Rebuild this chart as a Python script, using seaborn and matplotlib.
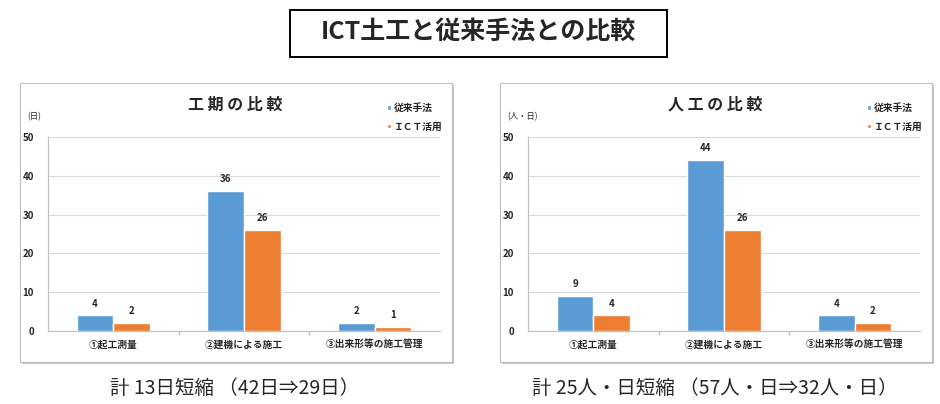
import pandas as pd
import numpy as np
import matplotlib.pyplot as plt
import seaborn as sns
from matplotlib.patches import Rectangle
from matplotlib.ticker import FixedLocator

categories = ['①起工測量', '②建機による施工', '③出来形等の施工管理']
series = ['従来手法', 'ＩＣＴ活用']
period_conventional = [4, 36, 2]
period_ict = [2, 26, 1]
labor_conventional = [9, 44, 4]
labor_ict = [4, 26, 2]

main_title = 'ICT土工と従来手法との比較'
chart_titles = ['工 期 の 比 較', '人 工 の 比 較']
unit_labels = ['(日)', '(人・日)']
captions = ['計 13日短縮 （42日⇒29日）', '計 25人・日短縮 （57人・日⇒32人・日）']

sns.set_theme(style='white')
plt.rcParams['font.family'] = ['Noto Sans CJK JP', 'DejaVu Sans']

W, H = 940, 404
fig = plt.figure(figsize=(W / 100, H / 100), dpi=100)
colors = ['#5B9BD5', '#ED7D31']


def fx(x):
    return x / W


def fy(y):
    return 1 - y / H


# main title box
fig.patches.append(Rectangle((fx(290), fy(57)), fx(377), 47 / H, transform=fig.transFigure,
                             facecolor='white', edgecolor='black', lw=1.4))
fig.text(fx(478), fy(33), main_title, ha='center', va='center', fontsize=18, fontweight='bold')


def draw_panel(x0, conv, ict, title, unit, caption):
    # outer frame with shadow
    fig.patches.append(Rectangle((fx(x0 + 2), fy(364)), fx(432), 279 / H, transform=fig.transFigure,
                                 facecolor='#c8c8c8', edgecolor='none', zorder=0))
    fig.patches.append(Rectangle((fx(x0), fy(362)), fx(432), 279 / H, transform=fig.transFigure,
                                 facecolor='white', edgecolor='#bfbfbf', lw=0.8, zorder=0.5))

    ax = fig.add_axes([fx(x0 + 28), fy(331), fx(392), 194 / H])
    ax.set_zorder(2)
    ax.patch.set_alpha(0)
    df = pd.DataFrame({
        'cat': categories * 2,
        'series': [series[0]] * 3 + [series[1]] * 3,
        'val': list(conv) + list(ict),
    })
    sns.barplot(data=df, x='cat', y='val', hue='series', palette=colors, width=0.56,
                saturation=1, ax=ax, zorder=3)
    for cont in ax.containers:
        ax.bar_label(cont, padding=5, fontsize=7, fontweight='bold')
    ax.set_xlim(-0.5, 2.5)
    ax.set_ylim(0, 50)
    ax.set_yticks(range(0, 51, 10))
    ax.yaxis.grid(True, color='#d9d9d9', lw=0.8, zorder=0)
    ax.set_axisbelow(True)
    ax.set_xlabel('')
    ax.set_ylabel('')
    ax.tick_params(axis='y', labelsize=7, length=0, pad=10)
    ax.tick_params(axis='x', labelsize=7, length=0, pad=6)
    ax.xaxis.set_minor_locator(FixedLocator([0.5, 1.5]))
    ax.tick_params(axis='x', which='minor', length=3, color='#bfbfbf', direction='out', bottom=True)
    for s in ['top', 'right']:
        ax.spines[s].set_visible(False)
    for s in ['left', 'bottom']:
        ax.spines[s].set_color('#bfbfbf')
        ax.spines[s].set_linewidth(0.8)
    for lab in ax.get_yticklabels() + ax.get_xticklabels():
        lab.set_fontweight('bold')

    handles, labels = ax.get_legend_handles_labels()
    leg = ax.legend(handles, labels, loc='upper left', bbox_to_anchor=(fx(x0 + 358), fy(94)),
                    bbox_transform=fig.transFigure, frameon=False, fontsize=7,
                    handlelength=0.4, handleheight=0.4, handletextpad=0.3, labelspacing=0.9)
    for t in leg.get_texts():
        t.set_fontweight('bold')

    fig.text(fx(x0 + 215), fy(105), title, ha='center', va='center', fontsize=11.5, fontweight='bold')
    fig.text(fx(x0 + 7), fy(117), unit, ha='left', va='center', fontsize=6)
    fig.text(fx(x0 + 215), fy(388), caption, ha='center', va='center', fontsize=14)


draw_panel(20, period_conventional, period_ict, chart_titles[0], unit_labels[0], captions[0])
draw_panel(500, labor_conventional, labor_ict, chart_titles[1], unit_labels[1], captions[1])

fig.savefig('out.png', dpi=100)
